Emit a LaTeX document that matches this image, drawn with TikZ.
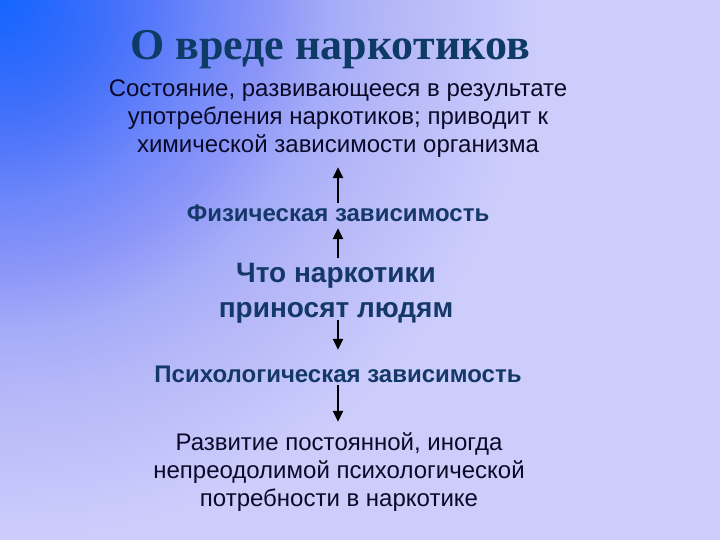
\documentclass[tikz,border=0pt]{standalone}
\usepackage{fontspec}
\setmainfont{Liberation Sans}
\newfontfamily\titlefont{Liberation Serif}
\usetikzlibrary{arrows.meta}
\definecolor{bgA}{RGB}{20,100,255}
\definecolor{bgB}{RGB}{60,110,250}
\definecolor{bgC}{RGB}{85,120,250}
\definecolor{bgD}{RGB}{110,135,250}
\definecolor{bgE}{RGB}{140,150,248}
\definecolor{bgF}{RGB}{165,172,248}
\definecolor{bgG}{RGB}{182,184,248}
\definecolor{bgH}{RGB}{205,205,252}
\definecolor{titlecol}{RGB}{14,58,102}
\definecolor{boldcol}{RGB}{20,56,104}
\definecolor{textcol}{RGB}{10,10,40}
\pgfdeclareradialshading{bgsh}{\pgfpoint{0bp}{0bp}}{color(0bp)=(bgA); color(2.8bp)=(bgB); color(4.2bp)=(bgC); color(5.6bp)=(bgD); color(7.5bp)=(bgE); color(9.2bp)=(bgF); color(11.1bp)=(bgG); color(15bp)=(bgH); color(50bp)=(bgH)}
\tikzset{
  plain/.style={font=\fontsize{24bp}{28bp}\selectfont, text=textcol, align=center, inner sep=0pt, anchor=base},
  boldlabel/.style={font=\bfseries\fontsize{24bp}{28bp}\selectfont, text=boldcol, align=center, inner sep=0pt, anchor=base, text height=17bp, text depth=0bp},
  bigbold/.style={font=\bfseries\fontsize{28bp}{34bp}\selectfont, text=boldcol, align=center, inner sep=0pt, anchor=base},
  arr/.style={-{Triangle[width=10bp,length=11bp]}, line width=2.6bp, black}
}
\begin{document}
\begin{tikzpicture}[x=1bp,y=-1bp]
\useasboundingbox (0,0) rectangle (720,540);
\begin{scope}
\clip (0,0) rectangle (720,540);
\shade[shading=bgsh] (0,0) circle (900);
\end{scope}
\node[anchor=base, inner sep=0pt, text=titlecol, font=\titlefont\bfseries\fontsize{44bp}{50bp}\selectfont] (title) at (330,60) {О вреде наркотиков};
\node[plain, text depth=5bp] (p1) at (338,153) {Состояние, развивающееся в результате\\употребления наркотиков; приводит к\\химической зависимости организма};
\node[boldlabel] (fiz) at (338,222) {Физическая зависимость};
\node[bigbold, text height=54bp, text depth=2bp] (chto) at (336,317) {Что наркотики\\приносят людям};
\node[boldlabel] (psy) at (338,382) {Психологическая зависимость};
\node[plain, text height=73bp, text depth=5bp] (p3) at (339,506) {Развитие постоянной, иногда\\непреодолимой психологической\\потребности в наркотике};
\draw[arr, shorten <=2bp, shorten >=9bp] (fiz.north) -- (p1.south -| fiz.north);
\draw[arr, shorten <=5bp, shorten >=6bp] (fiz.south |- chto.north) -- (fiz.south);
\draw[arr, shorten <=1bp, shorten >=15bp] (fiz.south |- chto.south) -- (psy.north -| fiz.south);
\draw[arr, shorten <=3bp, shorten >=11bp] (psy.south -| fiz.south) -- (p3.north -| fiz.south);
\end{tikzpicture}
\end{document}
